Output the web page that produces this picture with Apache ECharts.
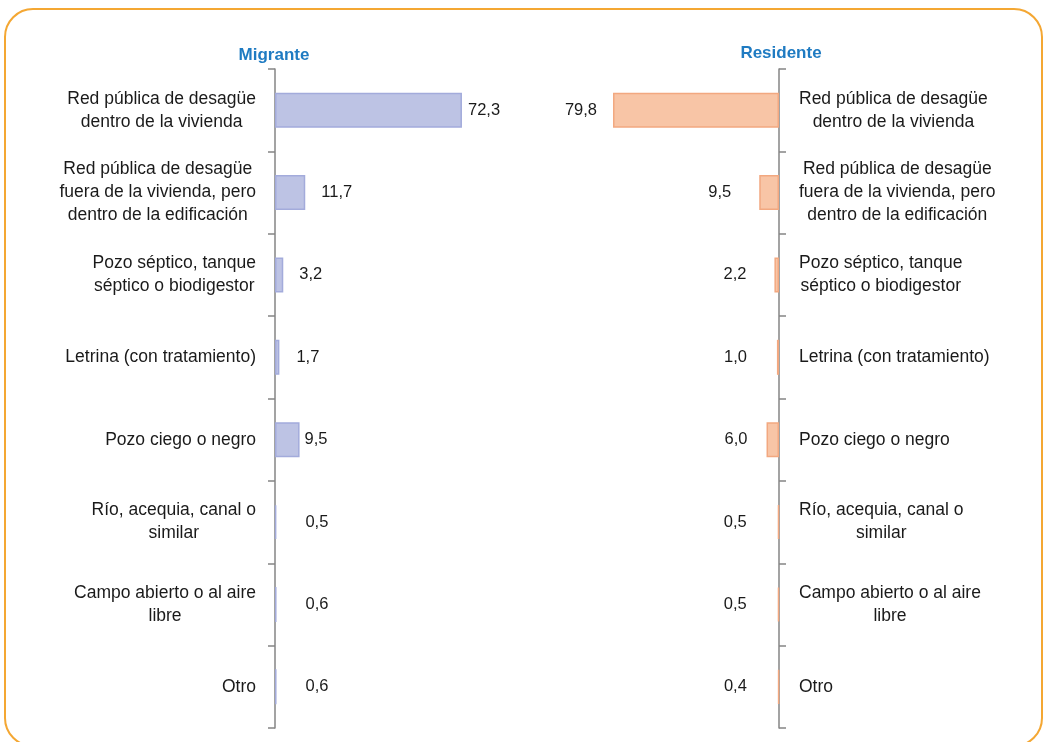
<!DOCTYPE html>
<html>
<head>
<meta charset="utf-8">
<script src="https://cdn.jsdelivr.net/npm/echarts@6/dist/echarts.min.js"></script>
<style>html,body{margin:0;padding:0;background:#fff;}#c{width:1045px;height:742px;}</style>
</head>
<body>
<div id="c"></div>
<script>
var categories = [
  "Red pública de desagüe\ndentro de la vivienda",
  "Red pública de desagüe\nfuera de la vivienda, pero\ndentro de la edificación",
  "Pozo séptico, tanque\nséptico o biodigestor",
  "Letrina (con tratamiento)",
  "Pozo ciego o negro",
  "Río, acequia, canal o\nsimilar",
  "Campo abierto o al aire\nlibre",
  "Otro"
];
var migrante = [72.3, 11.7, 3.2, 1.7, 9.5, 0.5, 0.6, 0.6];
var residente = [79.8, 9.5, 2.2, 1.0, 6.0, 0.5, 0.5, 0.4];
var titles = ["Migrante", "Residente"];

// label gaps (styling only)
var gapMig = [6, 16, 16, 17, 5, 29, 29, 29];
var gapRes = [16, 28, 28, 30, 19, 31, 31, 31];

var FONT = "'Liberation Sans', Arial, sans-serif";
function fmt(p){ return p.value.toFixed(1).replace('.', ','); }
function items(vals, gaps){
  return vals.map(function(v, i){ return {value: v, label: {distance: gaps[i]}}; });
}
var axisCommon = {
  type: 'category',
  data: categories,
  inverse: true,
  axisLine: {show: true, lineStyle: {color: '#858585', width: 1.5}},
  axisTick: {show: true, length: 7, lineStyle: {color: '#858585', width: 1.5}},
  splitLine: {show: false}
};
var richLbl = {c: {align: 'center', fontSize: 17.5, lineHeight: 23, fontFamily: FONT, color: '#1a1a1a'}};

var chart = echarts.init(document.getElementById('c'));
chart.setOption({
  animation: false,
  backgroundColor: '#fff',
  title: [
    {text: titles[0], left: 269, top: 42, textAlign: 'center',
     textStyle: {fontFamily: FONT, fontSize: 17, fontWeight: 'bold', color: '#1f7bc2'}},
    {text: titles[1], left: 776, top: 40, textAlign: 'center',
     textStyle: {fontFamily: FONT, fontSize: 17, fontWeight: 'bold', color: '#1f7bc2'}}
  ],
  graphic: [{
    type: 'rect', silent: true, z: -1,
    shape: {x: 5, y: 9, width: 1037, height: 737, r: 28},
    style: {fill: 'none', stroke: '#f4a733', lineWidth: 2}
  }],
  grid: [
    {left: 275, top: 69, width: 258.6, height: 659, containLabel: false},
    {left: 571, top: 69, width: 208, height: 659, containLabel: false}
  ],
  xAxis: [
    {gridIndex: 0, type: 'value', min: 0, max: 100, show: false},
    {gridIndex: 1, type: 'value', min: 0, max: 100, show: false, inverse: true}
  ],
  yAxis: [
    Object.assign({}, axisCommon, {gridIndex: 0, position: 'left',
      axisLabel: {margin: 19, formatter: function(v){ return '{c|' + v + '}'; }, rich: richLbl}}),
    Object.assign({}, axisCommon, {gridIndex: 1, position: 'right',
      axisLabel: {margin: 20, formatter: function(v){ return '{c|' + v + '}'; }, rich: richLbl}})
  ],
  series: [
    {type: 'bar', xAxisIndex: 0, yAxisIndex: 0, barWidth: 35,
     data: items(migrante, gapMig),
     itemStyle: {color: '#bdc3e4', borderColor: '#a3abdb', borderWidth: 1.5},
     label: {show: true, position: 'right', formatter: fmt, fontFamily: FONT, fontSize: 16.5, color: '#1a1a1a'}},
    {type: 'bar', xAxisIndex: 1, yAxisIndex: 1, barWidth: 35,
     data: items(residente, gapRes),
     itemStyle: {color: '#f8c5a6', borderColor: '#f2a880', borderWidth: 1.5},
     label: {show: true, position: 'left', formatter: fmt, fontFamily: FONT, fontSize: 16.5, color: '#1a1a1a'}}
  ]
});
</script>
</body>
</html>
